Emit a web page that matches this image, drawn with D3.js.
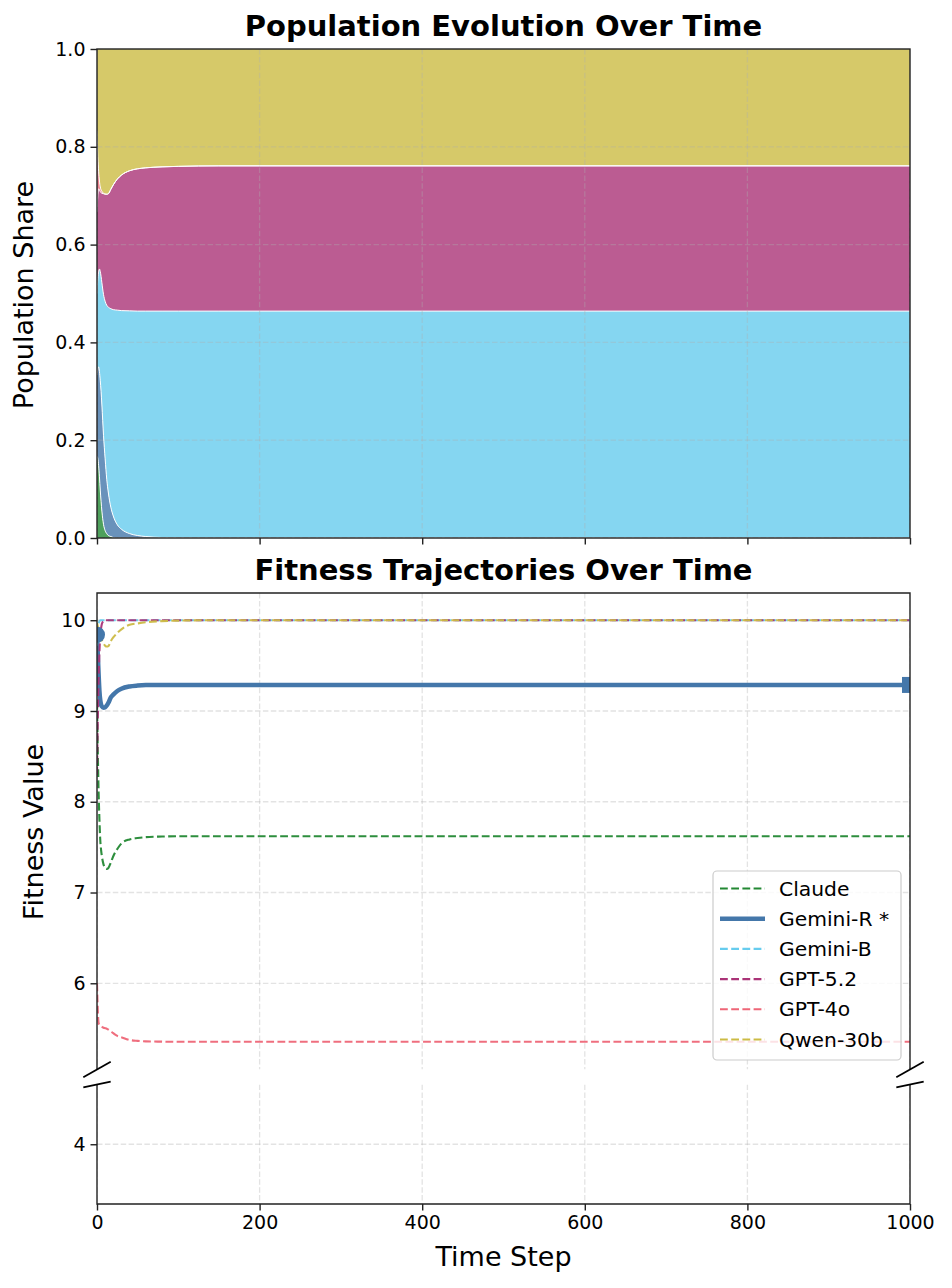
<!DOCTYPE html>
<html><head><meta charset="utf-8">
<script src="https://cdn.jsdelivr.net/npm/d3@7"></script>
<style>body{margin:0;background:#fff;} text{font-family:"DejaVu Sans",sans-serif;fill:#000;}</style>
</head><body><svg id="c" width="952" height="1288"></svg>
<script>
// ---------- DATA ----------
const timeSteps = [0,1,2,3,4,5,6,8,10,12,14,17,20,25,30,40,50,60,80,100,150,200,1000];
const models = ["Claude","Gemini-R *","Gemini-B","GPT-5.2","GPT-4o","Qwen-30b"];
const modelColors = ["#228833","#4477AA","#66CCEE","#AA3377","#EE6677","#CCBB44"];

// population shares
const shareClaude  = [.167,.163,.148,.125,.098,.075,.055,.028,.015,.009,.005,.003,.001,0,0,0,0,0,0,0,0,0,0];
const shareGeminiR = [.166,.182,.202,.215,.224,.225,.217,.182,.147,.111,.087,.060,.044,.027,.018,.009,.005,.003,.001,.0005,0,0,0];
const shareGeminiB = [.167,.185,.195,.210,.223,.235,.250,.288,.322,.356,.380,.406,.422,.439,.447,.4555,.459,.461,.463,.4635,.464,.464,.464];
const shareGPT52   = [.167,.170,.169,.162,.163,.171,.183,.206,.219,.227,.232,.244,.255,.268,.277,.2865,.291,.293,.295,.296,.297,.297,.297];
const shareGPT4o   = [.166,.080,.036,.018,.010,.006,.004,.001,.0005,0,0,0,0,0,0,0,0,0,0,0,0,0,0];
const shareQwen    = [.167,.220,.250,.270,.282,.288,.291,.295,.2965,.297,.296,.287,.278,.266,.258,.249,.245,.243,.241,.240,.239,.239,.239];

// fitness values
const fitClaude  = [9.10,8.55,8.10,7.80,7.58,7.47,7.40,7.31,7.27,7.26,7.27,7.33,7.40,7.48,7.54,7.585,7.60,7.61,7.617,7.62,7.62,7.62,7.62];
const fitGeminiR = [9.84,9.62,9.40,9.22,9.12,9.07,9.05,9.035,9.04,9.06,9.09,9.15,9.18,9.22,9.245,9.27,9.28,9.285,9.287,9.287,9.287,9.287,9.287];
const fitGeminiB = [9.72,9.88,9.96,9.99,10,10,10,10,10,10,10,10,10,10,10,10,10,10,10,10,10,10,10];
const fitGPT52   = [8.30,8.90,9.35,9.65,9.82,9.91,9.96,9.99,10,10,10,10,10,10,10,10,10,10,10,10,10,10,10];
const fitGPT4o   = [6.00,5.70,5.56,5.54,5.53,5.525,5.52,5.51,5.505,5.50,5.49,5.47,5.45,5.42,5.405,5.375,5.365,5.36,5.357,5.355,5.355,5.355,5.355];
const fitQwen    = [9.97,9.93,9.89,9.86,9.83,9.80,9.78,9.745,9.72,9.71,9.715,9.77,9.81,9.86,9.90,9.95,9.965,9.977,9.99,9.996,10,10,10];

const shareTicks = [0,0.2,0.4,0.6,0.8,1.0];
const fitTicksUpper = [6,7,8,9,10];
const fitTicksLower = [4];
const timeTicks = [0,200,400,600,800,1000];

const shares = [shareClaude,shareGeminiR,shareGeminiB,shareGPT52,shareGPT4o,shareQwen];
const fits = [fitClaude,fitGeminiR,fitGeminiB,fitGPT52,fitGPT4o,fitQwen];

// ---------- LAYOUT ----------
const svg = d3.select("#c");
const L = 97, R = 910;
const x = d3.scaleLinear([0,1000],[L,R]);
const yTop = d3.scaleLinear([0,1],[538,49]);
const yUp = d3.scaleLinear([5.05,10.3],[1069.5,593]);
const yLow = d3.scaleLinear([3.34,4.66],[1204,1084.5]);
const TICK_FS = 19, LABEL_FS = 27, TITLE_FS = 29;

const defs = svg.append("defs");
function clip(id, y0, y1){
  defs.append("clipPath").attr("id",id).append("rect").attr("x",L).attr("y",y0).attr("width",R-L).attr("height",y1-y0);
}
clip("cTop",49,538); clip("cUp",593,1069.5); clip("cLow",1084.5,1204);

function grid(g, yScale, yTicks, y0, y1){
  const gg = g.append("g").attr("stroke","#b0b0b0").attr("stroke-opacity",0.35)
    .attr("stroke-width",1.3).attr("stroke-dasharray","5.5,2.4");
  timeTicks.forEach(t=>gg.append("line").attr("x1",x(t)).attr("x2",x(t)).attr("y1",y0).attr("y2",y1));
  yTicks.forEach(v=>gg.append("line").attr("x1",L).attr("x2",R).attr("y1",yScale(v)).attr("y2",yScale(v)));
}
function yAxis(yScale, ticks, fmt){
  const a = svg.append("g").attr("transform",`translate(${L},0)`)
    .call(d3.axisLeft(yScale).tickValues(ticks).tickFormat(fmt).tickSize(6.5).tickPadding(5));
  a.select(".domain").remove();
  a.selectAll("line").attr("stroke","#222").attr("stroke-width",1.4);
  a.selectAll("text").attr("font-size",TICK_FS).attr("font-family","DejaVu Sans").attr("fill","#000");
}
function xAxis(yPos, labels){
  const a = svg.append("g").attr("transform",`translate(0,${yPos})`)
    .call(d3.axisBottom(x).tickValues(timeTicks).tickFormat(labels?d3.format("d"):()=>"" ).tickSize(6.5).tickPadding(5));
  a.select(".domain").remove();
  a.selectAll("line").attr("stroke","#222").attr("stroke-width",1.4);
  a.selectAll("text").attr("font-size",TICK_FS).attr("font-family","DejaVu Sans").attr("fill","#000");
}

// ---------- TOP: stacked area ----------
const rows = timeSteps.map((t,i)=>{ const o={t}; models.forEach((m,k)=>o[m]=shares[k][i]); return o; });
const stacked = d3.stack().keys(models)(rows);
const area = d3.area().x(d=>x(d.data.t)).y0(d=>yTop(d[0])).y1(d=>yTop(d[1])).curve(d3.curveMonotoneX);
const topLine = d3.line().x(d=>x(d.data.t)).y(d=>yTop(d[1])).curve(d3.curveMonotoneX);
const gTop = svg.append("g").attr("clip-path","url(#cTop)");
stacked.forEach((s,k)=>{
  gTop.append("path").attr("d",area(s)).attr("fill",modelColors[k]).attr("fill-opacity",0.8);
});
stacked.forEach((s,k)=>{
  if(k<models.length-1) gTop.append("path").attr("d",topLine(s)).attr("fill","none").attr("stroke","#fff").attr("stroke-width",1);
});
grid(gTop, yTop, shareTicks, 49, 538);
svg.append("rect").attr("x",L).attr("y",49).attr("width",R-L).attr("height",538-49)
  .attr("fill","none").attr("stroke","#222").attr("stroke-width",1.4);
yAxis(yTop, shareTicks, d3.format(".1f"));
xAxis(538,false);
svg.append("text").attr("x",(L+R)/2).attr("y",36).attr("text-anchor","middle")
  .attr("font-size",TITLE_FS).attr("font-weight","bold").text("Population Evolution Over Time");
svg.append("text").attr("transform",`translate(33,295) rotate(-90)`).attr("text-anchor","middle")
  .attr("font-size",LABEL_FS).text("Population Share");

// ---------- BOTTOM: fitness (broken axis) ----------
const gUp = svg.append("g").attr("clip-path","url(#cUp)");
const gLow = svg.append("g").attr("clip-path","url(#cLow)");
grid(gUp, yUp, fitTicksUpper, 593, 1069.5);
grid(gLow, yLow, fitTicksLower, 1084.5, 1204);

function drawLines(g, yScale){
  fits.forEach((f,k)=>{
    const pts = timeSteps.map((t,i)=>[t,f[i]]);
    const ln = d3.line().x(d=>x(d[0])).y(d=>yScale(d[1])).curve(d3.curveMonotoneX);
    const p = g.append("path").attr("d",ln(pts)).attr("fill","none").attr("stroke",modelColors[k]);
    if(k===1){ p.attr("stroke-width",4.5); }
    else { p.attr("stroke-width",2.1).attr("stroke-dasharray","7.8,3.4").attr("stroke-opacity",0.95); }
  });
  const f = fitGeminiR;
  g.append("circle").attr("cx",x(timeSteps[0])).attr("cy",yScale(f[0])).attr("r",8).attr("fill",modelColors[1]);
  const n = timeSteps.length-1;
  g.append("rect").attr("x",x(timeSteps[n])-8).attr("y",yScale(f[n])-8).attr("width",16).attr("height",16).attr("fill",modelColors[1]);
}
drawLines(gUp, yUp);
drawLines(gLow, yLow);

const sp = svg.append("g").attr("stroke","#222").attr("stroke-width",1.4).attr("fill","none");
sp.append("path").attr("d",`M${L},1069.5 V593 H${R} V1069.5`);
sp.append("path").attr("d",`M${L},1084.5 V1204 H${R} V1084.5`);
const bm = svg.append("g").attr("stroke","#000").attr("stroke-width",1.8);
[L,R].forEach(xx=>{
  bm.append("line").attr("x1",xx-13.7).attr("y1",1069.5+7.8).attr("x2",xx+13.7).attr("y2",1069.5-7.8);
  bm.append("line").attr("x1",xx-13.7).attr("y1",1084.5+2.8).attr("x2",xx+13.7).attr("y2",1084.5-2.8);
});
yAxis(yUp, fitTicksUpper, d3.format("d"));
yAxis(yLow, fitTicksLower, d3.format("d"));
xAxis(1204,true);

svg.append("text").attr("x",(L+R)/2).attr("y",580).attr("text-anchor","middle")
  .attr("font-size",TITLE_FS).attr("font-weight","bold").text("Fitness Trajectories Over Time");
svg.append("text").attr("transform",`translate(43,832) rotate(-90)`).attr("text-anchor","middle")
  .attr("font-size",LABEL_FS).text("Fitness Value");
svg.append("text").attr("x",(L+R)/2).attr("y",1266).attr("text-anchor","middle")
  .attr("font-size",LABEL_FS).text("Time Step");

// ---------- LEGEND ----------
const lg = svg.append("g");
lg.append("rect").attr("x",713).attr("y",871).attr("width",188).attr("height",189).attr("rx",4)
  .attr("fill","#fff").attr("fill-opacity",0.8).attr("stroke","#ccc").attr("stroke-width",1.2);
models.forEach((m,k)=>{
  const yy = 888.5 + k*30.2;
  const l = lg.append("line").attr("x1",720).attr("x2",765).attr("y1",yy).attr("y2",yy).attr("stroke",modelColors[k]);
  if(k===1) l.attr("stroke-width",4.5); else l.attr("stroke-width",2.1).attr("stroke-dasharray","7.8,3.4");
  lg.append("text").attr("x",779).attr("y",yy).attr("dy","0.35em").attr("font-size",20.3).text(m);
});
</script></body></html>
